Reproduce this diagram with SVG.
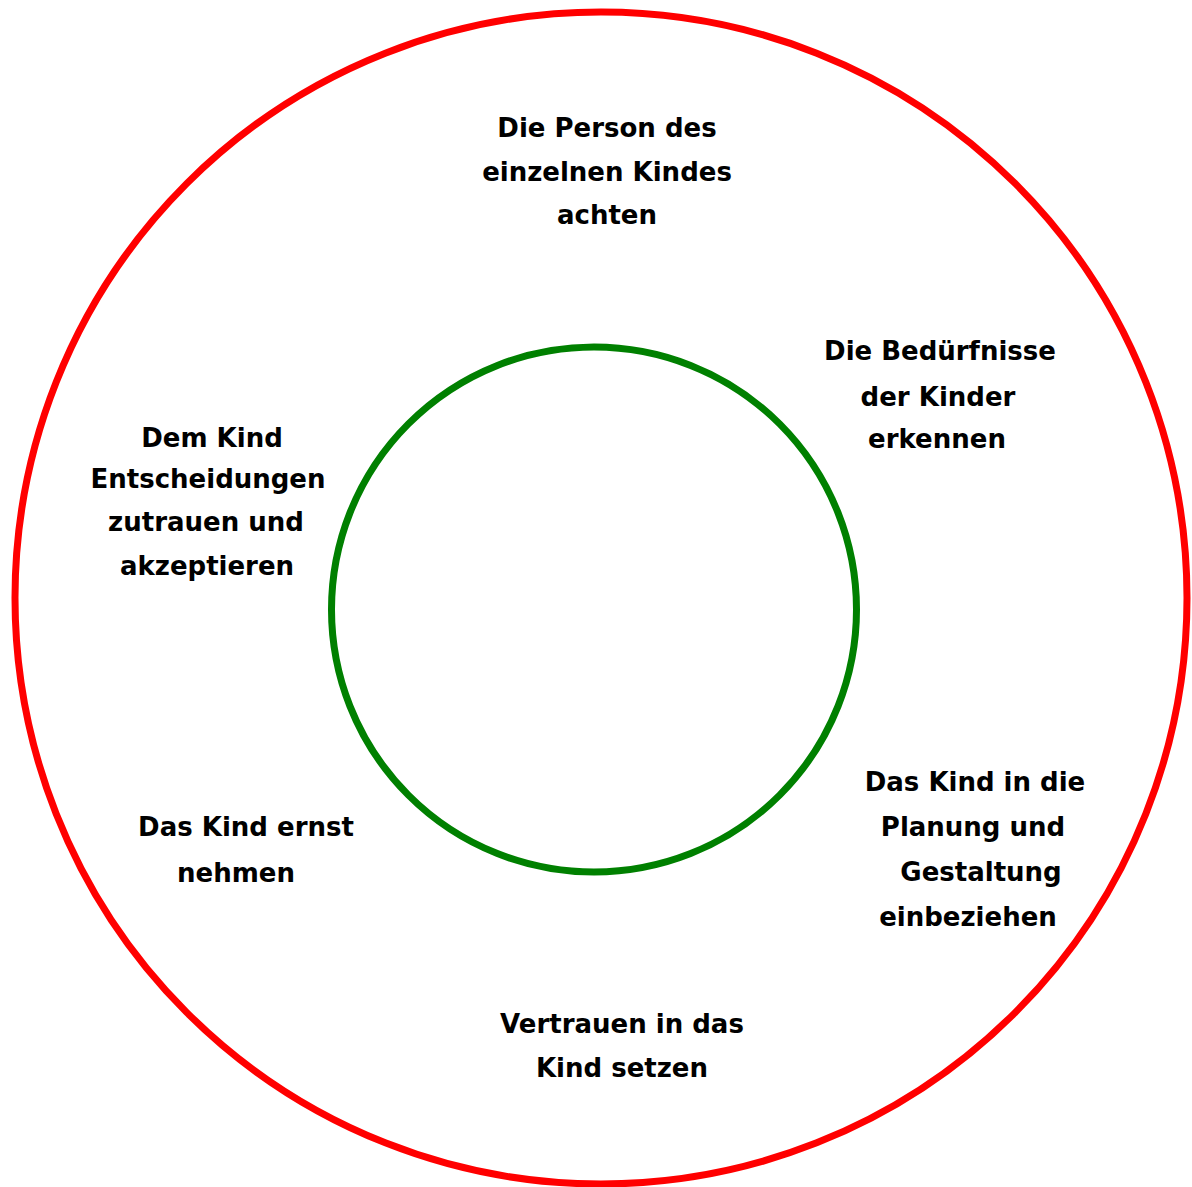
<svg xmlns="http://www.w3.org/2000/svg" width="1192" height="1187" viewBox="0 0 1192 1187">
<style>
.t{font-family:"DejaVu Sans","Liberation Sans",sans-serif;font-weight:bold;font-size:26px;fill:#000;text-anchor:middle}
</style>
<rect width="1192" height="1187" fill="#fff"/>
<g id="outer"><circle cx="601" cy="598" r="586" fill="none" stroke="#ff0000" stroke-width="7"/></g>
<g id="inner"><circle cx="594" cy="609.5" r="262.5" fill="none" stroke="#008000" stroke-width="7"/></g>
<g id="n1"><text class="t" x="607" y="137">Die Person des</text><text class="t" x="607" y="181">einzelnen Kindes</text><text class="t" x="607" y="224">achten</text></g>
<g id="n2"><text class="t" x="940" y="360">Die Bedürfnisse</text><text class="t" x="938" y="406">der Kinder</text><text class="t" x="937" y="448">erkennen</text></g>
<g id="n3"><text class="t" x="212" y="447">Dem Kind</text><text class="t" x="208" y="488">Entscheidungen</text><text class="t" x="206" y="531">zutrauen und</text><text class="t" x="207" y="575">akzeptieren</text></g>
<g id="n4"><text class="t" x="246" y="836">Das Kind ernst</text><text class="t" x="236" y="882">nehmen</text></g>
<g id="n5"><text class="t" x="975" y="791">Das Kind in die</text><text class="t" x="973" y="836">Planung und</text><text class="t" x="981" y="881">Gestaltung</text><text class="t" x="968" y="926">einbeziehen</text></g>
<g id="n6"><text class="t" x="622" y="1033">Vertrauen in das</text><text class="t" x="622" y="1077">Kind setzen</text></g>
<g id="connectors"></g>
</svg>
